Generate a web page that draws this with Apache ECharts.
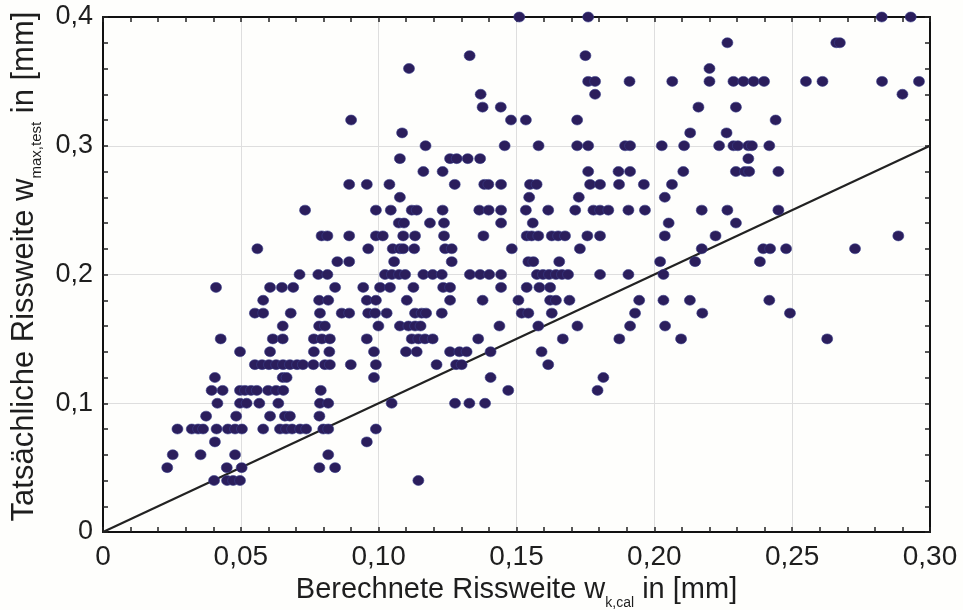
<!DOCTYPE html>
<html>
<head>
<meta charset="utf-8">
<script src="https://cdn.jsdelivr.net/npm/echarts@6/dist/echarts.min.js"></script>
<style>
  html, body { margin: 0; padding: 0; background: #fefefc; }
  #chart { width: 963px; height: 610px; }
</style>
</head>
<body>
<div id="chart"></div>
<script>
// Measured crack width levels (mm), one entry per row of points
const measuredLevels = [0.40, 0.38, 0.37, 0.36, 0.35, 0.34, 0.33, 0.32, 0.31, 0.30,
  0.29, 0.28, 0.27, 0.26, 0.25, 0.24, 0.23, 0.22, 0.21, 0.20,
  0.19, 0.18, 0.17, 0.16, 0.15, 0.14, 0.13, 0.12, 0.11, 0.10,
  0.09, 0.08, 0.07, 0.06, 0.05, 0.04];

// Calculated crack widths (mm) observed at each measured level above
const calculatedAtLevel = [
  [0.151, 0.176, 0.2825, 0.293],
  [0.2265, 0.266, 0.2673],
  [0.133, 0.175],
  [0.111, 0.220],
  [0.176, 0.1785, 0.191, 0.2065, 0.220, 0.2287, 0.2323, 0.236, 0.2398, 0.255, 0.261, 0.2826, 0.296],
  [0.137, 0.1785, 0.290],
  [0.1377, 0.1443, 0.216, 0.2296],
  [0.090, 0.148, 0.1534, 0.172, 0.244],
  [0.1085, 0.213, 0.2262],
  [0.117, 0.1457, 0.158, 0.172, 0.176, 0.1894, 0.1912, 0.2027, 0.2108, 0.2235, 0.2287, 0.2303, 0.2341, 0.2354, 0.2417],
  [0.1077, 0.1259, 0.1283, 0.1323, 0.1368, 0.2341],
  [0.1162, 0.1232, 0.176, 0.187, 0.1912, 0.2105, 0.2296, 0.2329, 0.2344, 0.245],
  [0.0893, 0.0957, 0.1039, 0.1276, 0.1383, 0.1398, 0.1444, 0.1549, 0.1573, 0.1767, 0.1803, 0.1872, 0.1962, 0.2064],
  [0.1077, 0.1546, 0.1726, 0.2038],
  [0.0733, 0.099, 0.1044, 0.112, 0.1138, 0.1232, 0.1365, 0.1399, 0.1444, 0.1534, 0.1615, 0.1713, 0.1779, 0.1803, 0.1833, 0.1906, 0.1966, 0.2172, 0.2265, 0.245],
  [0.1073, 0.1092, 0.1186, 0.1237, 0.1444, 0.1559, 0.2052, 0.2296],
  [0.0793, 0.0814, 0.0893, 0.099, 0.1015, 0.1089, 0.1132, 0.1237, 0.138, 0.1537, 0.1555, 0.1579, 0.1628, 0.1651, 0.1676, 0.1757, 0.1803, 0.2038, 0.2222, 0.2885],
  [0.056, 0.0962, 0.1051, 0.1077, 0.1089, 0.1129, 0.1241, 0.1265, 0.1483, 0.173, 0.2172, 0.2395, 0.242, 0.2478, 0.2728],
  [0.085, 0.0893, 0.1056, 0.1265, 0.1543, 0.1561, 0.1655, 0.2021, 0.2148, 0.2383],
  [0.0713, 0.0781, 0.0814, 0.1023, 0.1048, 0.1074, 0.1096, 0.1162, 0.1196, 0.1229, 0.1331, 0.1368, 0.1401, 0.1444, 0.1574, 0.1596, 0.1618, 0.1643, 0.1665, 0.1687, 0.1803, 0.1906, 0.2033],
  [0.041, 0.0606, 0.0649, 0.069, 0.0842, 0.0944, 0.1005, 0.1041, 0.1126, 0.1234, 0.1259, 0.1444, 0.1537, 0.1583, 0.1622],
  [0.0581, 0.0784, 0.0817, 0.0957, 0.099, 0.1102, 0.1259, 0.1377, 0.1507, 0.1622, 0.1643, 0.1692, 0.1945, 0.2033, 0.2129, 0.2417],
  [0.0551, 0.0581, 0.0681, 0.0787, 0.0866, 0.0893, 0.0962, 0.0987, 0.1029, 0.1132, 0.1156, 0.1172, 0.1229, 0.1519, 0.1543, 0.1628, 0.193, 0.2174, 0.2492],
  [0.0652, 0.0784, 0.0805, 0.0999, 0.1077, 0.1108, 0.1132, 0.1152, 0.1438, 0.1579, 0.1721, 0.1912, 0.2039],
  [0.0427, 0.0616, 0.0652, 0.0765, 0.0794, 0.0823, 0.0957, 0.112, 0.1144, 0.1168, 0.1196, 0.1361, 0.1668, 0.1873, 0.2097, 0.2627],
  [0.0497, 0.0606, 0.0765, 0.0821, 0.0983, 0.1099, 0.1138, 0.1259, 0.1293, 0.1319, 0.1406, 0.1591],
  [0.0551, 0.0577, 0.0602, 0.0628, 0.0653, 0.0678, 0.0704, 0.0725, 0.0763, 0.0805, 0.0823, 0.0899, 0.099, 0.121, 0.1281, 0.1301, 0.1615],
  [0.0406, 0.0652, 0.0666, 0.0983, 0.1406, 0.1815],
  [0.0394, 0.0434, 0.0497, 0.0515, 0.0537, 0.0558, 0.0599, 0.0628, 0.0654, 0.079, 0.147, 0.1794],
  [0.0415, 0.0497, 0.0521, 0.0567, 0.0636, 0.0787, 0.0817, 0.1047, 0.1277, 0.1329, 0.1386],
  [0.0374, 0.0483, 0.0606, 0.066, 0.0678, 0.0785],
  [0.027, 0.0322, 0.0345, 0.0363, 0.0412, 0.0453, 0.0479, 0.0504, 0.0581, 0.0642, 0.0664, 0.0686, 0.0715, 0.0737, 0.0799, 0.0817, 0.099],
  [0.0406, 0.0957],
  [0.0253, 0.0354, 0.0479, 0.0817],
  [0.0233, 0.0449, 0.0503, 0.0785, 0.0842],
  [0.0403, 0.045, 0.0472, 0.0497, 0.1144]
];

// Line of equality w_max,test = w_k,cal
const equalityLine = [[0, 0], [0.30, 0.30]];

const points = [];
measuredLevels.forEach((w, i) => {
  calculatedAtLevel[i].forEach(x => points.push([x, w]));
});

const FONT = '"Liberation Sans", Arial, sans-serif';
const INK = '#1e1e1e';

function decimalComma(v, digits) {
  if (Math.abs(v) < 1e-9) return '0';
  return v.toFixed(digits).replace('.', ',');
}

// Axis titles with a subscript index
function titleRich(size, subSize) {
  return {
    m: { fontSize: size, fontFamily: FONT, color: INK, lineHeight: size + 5, verticalAlign: 'top' },
    s: { fontSize: subSize, fontFamily: FONT, color: INK, lineHeight: subSize, verticalAlign: 'bottom' }
  };
}

const frameAxis = {
  axisLine: { show: true, onZero: false, lineStyle: { color: '#111', width: 2 } },
  axisTick: { show: true, inside: true, length: 5, lineStyle: { color: '#222', width: 1.5 } },
  minorTick: { show: true, splitNumber: 5, length: 5, lineStyle: { color: '#222', width: 1.5 } },
  splitLine: { show: false },
  axisLabel: { show: false }
};

const chart = echarts.init(document.getElementById('chart'), null, { renderer: 'canvas' });
chart.setOption({
  backgroundColor: '#fefefc',
  animation: false,
  grid: { left: 103, right: 33, top: 17, bottom: 78, containLabel: false, outerBoundsMode: 'none' },
  xAxis: [
    {
      type: 'value', min: 0, max: 0.30, interval: 0.05, position: 'bottom',
      name: '{m|Berechnete Rissweite w}{s|k,cal}{m| in [mm]}',
      nameLocation: 'middle', nameGap: 42,
      nameTextStyle: { rich: titleRich(29, 14) },
      axisLine: { show: true, onZero: false, lineStyle: { color: '#111', width: 2 } },
      axisTick: { show: true, inside: true, length: 5, lineStyle: { color: '#222', width: 1.5 } },
      minorTick: { show: true, splitNumber: 5, length: 5, lineStyle: { color: '#222', width: 1.5 } },
      splitLine: { show: true, lineStyle: { color: '#dedede', width: 1 } },
      axisLabel: {
        fontSize: 28, fontFamily: FONT, color: INK, margin: 11,
        formatter: v => decimalComma(v, 2)
      }
    },
    Object.assign({ type: 'value', min: 0, max: 0.30, interval: 0.05, position: 'top' }, frameAxis)
  ],
  yAxis: [
    {
      type: 'value', min: 0, max: 0.4, interval: 0.1, position: 'left',
      name: '{m|Tatsächliche Rissweite w}{s|max,test}{m| in [mm]}',
      nameLocation: 'middle', nameGap: 57, nameRotate: 90,
      nameTextStyle: { rich: titleRich(31, 15), padding: [0, 0, 0, 16] },
      axisLine: { show: true, onZero: false, lineStyle: { color: '#111', width: 2 } },
      axisTick: { show: true, inside: true, length: 5, lineStyle: { color: '#222', width: 1.5 } },
      minorTick: { show: true, splitNumber: 5, length: 5, lineStyle: { color: '#222', width: 1.5 } },
      splitLine: { show: true, lineStyle: { color: '#dedede', width: 1 } },
      axisLabel: {
        fontSize: 27, fontFamily: FONT, color: INK, margin: 10,
        formatter: v => decimalComma(v, 1)
      }
    },
    Object.assign({ type: 'value', min: 0, max: 0.4, interval: 0.1, position: 'right' }, frameAxis)
  ],
  series: [
    {
      type: 'line',
      data: equalityLine,
      symbol: 'none',
      lineStyle: { color: '#222', width: 2.2 },
      z: 3
    },
    {
      type: 'scatter',
      data: points,
      symbol: 'circle',
      symbolSize: [11, 10],
      itemStyle: { color: '#2b1e5c', opacity: 1, borderColor: '#3b3f8c', borderWidth: 0.6 },
      z: 4
    }
  ]
});
</script>
</body>
</html>
